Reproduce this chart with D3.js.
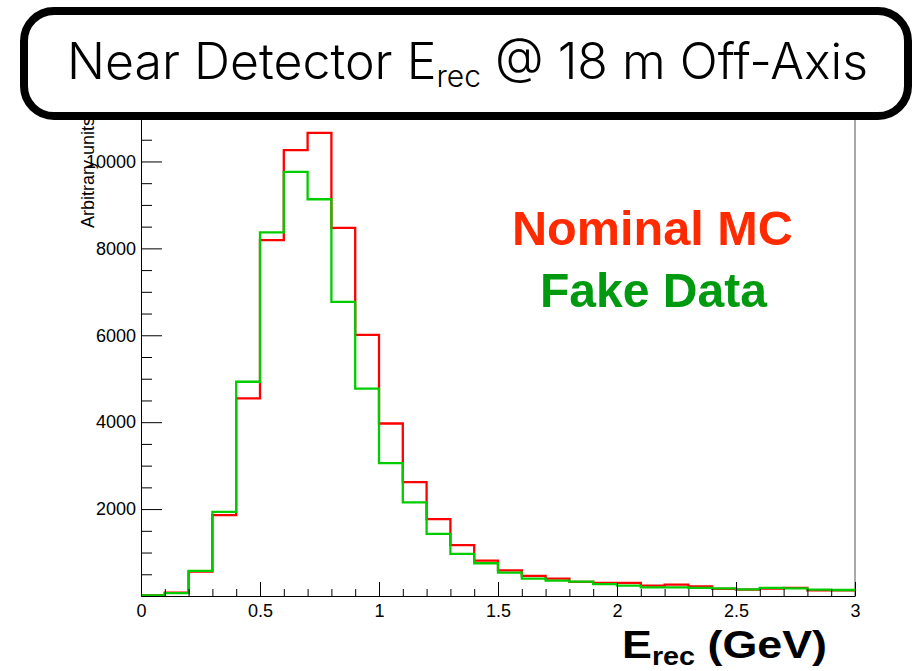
<!DOCTYPE html>
<html>
<head>
<meta charset="utf-8">
<script src="https://cdn.jsdelivr.net/npm/d3@7"></script>
<style>
  html, body { margin: 0; padding: 0; background: #fff; }
  svg { display: block; font-family: "Liberation Sans", Arial, sans-serif; }
</style>
</head>
<body>
<div id="chart"></div>
<script>
// bins of E_rec (GeV), lower edges, width 0.1
const binLow = [0.0, 0.1, 0.2, 0.3, 0.4, 0.5, 0.6, 0.7, 0.8, 0.9,
                1.0, 1.1, 1.2, 1.3, 1.4, 1.5, 1.6, 1.7, 1.8, 1.9,
                2.0, 2.1, 2.2, 2.3, 2.4, 2.5, 2.6, 2.7, 2.8, 2.9];
const binWidth = 0.1;

const nominalMC = [15, 75, 560, 1860, 4550, 8190, 10260, 10660, 8470, 6010,
                   3970, 2620, 1770, 1170, 815, 592, 462, 400, 323, 300,
                   300, 238, 262, 223, 162, 146, 169, 185, 131, 131];
const fakeData = [15, 65, 577, 1935, 4930, 8370, 9760, 9130, 6770, 4770,
                  3060, 2154, 1431, 969, 754, 538, 400, 354, 330, 273,
                  238, 200, 200, 185, 177, 154, 185, 177, 146, 138];

const xMajorTicks = [0, 0.5, 1, 1.5, 2, 2.5, 3];
const xMinorTicks = [0.1, 0.2, 0.3, 0.4, 0.6, 0.7, 0.8, 0.9, 1.1, 1.2, 1.3, 1.4,
                     1.6, 1.7, 1.8, 1.9, 2.1, 2.2, 2.3, 2.4, 2.6, 2.7, 2.8, 2.9];
const yMajorTicks = [2000, 4000, 6000, 8000, 10000];
const yMinorTicks = [500, 1000, 1500, 2500, 3000, 3500, 4500, 5000, 5500, 6500,
                     7000, 7500, 8500, 9000, 9500, 10500];

const width = 918, height = 671;
const frame = { left: 141, right: 855, top: 118, bottom: 596 };

const x = d3.scaleLinear().domain([0, 3]).range([frame.left, frame.right]);
const y = d3.scaleLinear().domain([0, 11000]).range([frame.bottom, frame.top]);

const svg = d3.select("#chart").append("svg")
  .attr("width", width)
  .attr("height", height)
  .attr("viewBox", [0, 0, width, height]);

// right side of the frame
svg.append("line")
  .attr("x1", frame.right).attr("x2", frame.right)
  .attr("y1", frame.top).attr("y2", frame.bottom)
  .attr("stroke", "#555").attr("stroke-width", 1);

// histograms
const steps = (values) =>
  binLow.map((b, i) => [b, values[i]])
    .concat([[binLow[binLow.length - 1] + binWidth, values[values.length - 1]]]);

const line = d3.line()
  .x((d) => x(d[0]))
  .y((d) => y(d[1]))
  .curve(d3.curveStepAfter);

svg.append("path")
  .attr("d", line(steps(nominalMC)))
  .attr("fill", "none")
  .attr("stroke", "#ff0000")
  .attr("stroke-width", 2.3);

svg.append("path")
  .attr("d", line(steps(fakeData)))
  .attr("fill", "none")
  .attr("stroke", "#00cc00")
  .attr("stroke-width", 2.3);

// axes, ticks pointing into the frame
const styleAxis = (g) => {
  g.selectAll("text")
    .attr("font-family", "Liberation Sans, Arial, sans-serif")
    .attr("font-size", 18)
    .attr("fill", "#000");
  g.selectAll("line").attr("stroke", "#000");
  g.select(".domain").attr("stroke", "#000");
};

svg.append("g")
  .attr("transform", `translate(0,${frame.bottom})`)
  .call(d3.axisBottom(x).tickValues(xMinorTicks).tickSizeInner(-7).tickSizeOuter(0).tickFormat(""))
  .call((g) => g.select(".domain").remove())
  .call(styleAxis);

svg.append("g")
  .attr("transform", `translate(0,${frame.bottom})`)
  .call(d3.axisBottom(x).tickValues(xMajorTicks).tickSizeInner(-14).tickSizeOuter(0)
    .tickPadding(8).tickFormat(d3.format("")))
  .call(styleAxis);

svg.append("g")
  .attr("transform", `translate(${frame.left},0)`)
  .call(d3.axisLeft(y).tickValues(yMinorTicks).tickSizeInner(-11).tickSizeOuter(0).tickFormat(""))
  .call((g) => g.select(".domain").remove())
  .call(styleAxis);

svg.append("g")
  .attr("transform", `translate(${frame.left},0)`)
  .call(d3.axisLeft(y).tickValues(yMajorTicks).tickSizeInner(-21).tickSizeOuter(0)
    .tickPadding(5).tickFormat(d3.format("d")))
  .call(styleAxis);

// y title
svg.append("text")
  .attr("transform", "translate(94,228) rotate(-90)")
  .attr("font-size", 18)
  .attr("fill", "#000")
  .text("Arbitrary units");

// x title
svg.append("text")
  .attr("x", 622)
  .attr("y", 658)
  .attr("font-size", 39)
  .attr("font-weight", "bold")
  .attr("fill", "#000")
  .attr("textLength", 205)
  .attr("lengthAdjust", "spacingAndGlyphs")
  .call((t) => {
    t.append("tspan").text("E");
    t.append("tspan").attr("font-size", 25).attr("dy", 7).text("rec");
    t.append("tspan").attr("dy", -7).text(" (GeV)");
  });

// legend
svg.append("text")
  .attr("x", 652.5)
  .attr("y", 245)
  .attr("text-anchor", "middle")
  .attr("font-size", 48)
  .attr("font-weight", "bold")
  .attr("fill", "#ff2a00")
  .attr("textLength", 281)
  .attr("lengthAdjust", "spacingAndGlyphs")
  .text("Nominal MC");

svg.append("text")
  .attr("x", 653.5)
  .attr("y", 307)
  .attr("text-anchor", "middle")
  .attr("font-size", 48)
  .attr("font-weight", "bold")
  .attr("fill", "#009a10")
  .attr("textLength", 227)
  .attr("lengthAdjust", "spacingAndGlyphs")
  .text("Fake Data");

// title box
svg.append("rect")
  .attr("x", 24).attr("y", 11)
  .attr("width", 884).attr("height", 105)
  .attr("rx", 30).attr("ry", 30)
  .attr("fill", "#fff")
  .attr("stroke", "#000")
  .attr("stroke-width", 8);

svg.append("text")
  .attr("x", 67)
  .attr("y", 79)
  .attr("font-family", "Inter, Liberation Sans, sans-serif")
  .attr("font-weight", 300)
  .attr("font-size", 50)
  .attr("fill", "#000")
  .attr("textLength", 801)
  .attr("lengthAdjust", "spacingAndGlyphs")
  .call((t) => {
    t.append("tspan").text("Near Detector E");
    t.append("tspan").attr("font-size", 30).attr("dy", 8).text("rec");
    t.append("tspan").attr("dy", -8).text(" @ 18 m Off-Axis");
  });
</script>
</body>
</html>
